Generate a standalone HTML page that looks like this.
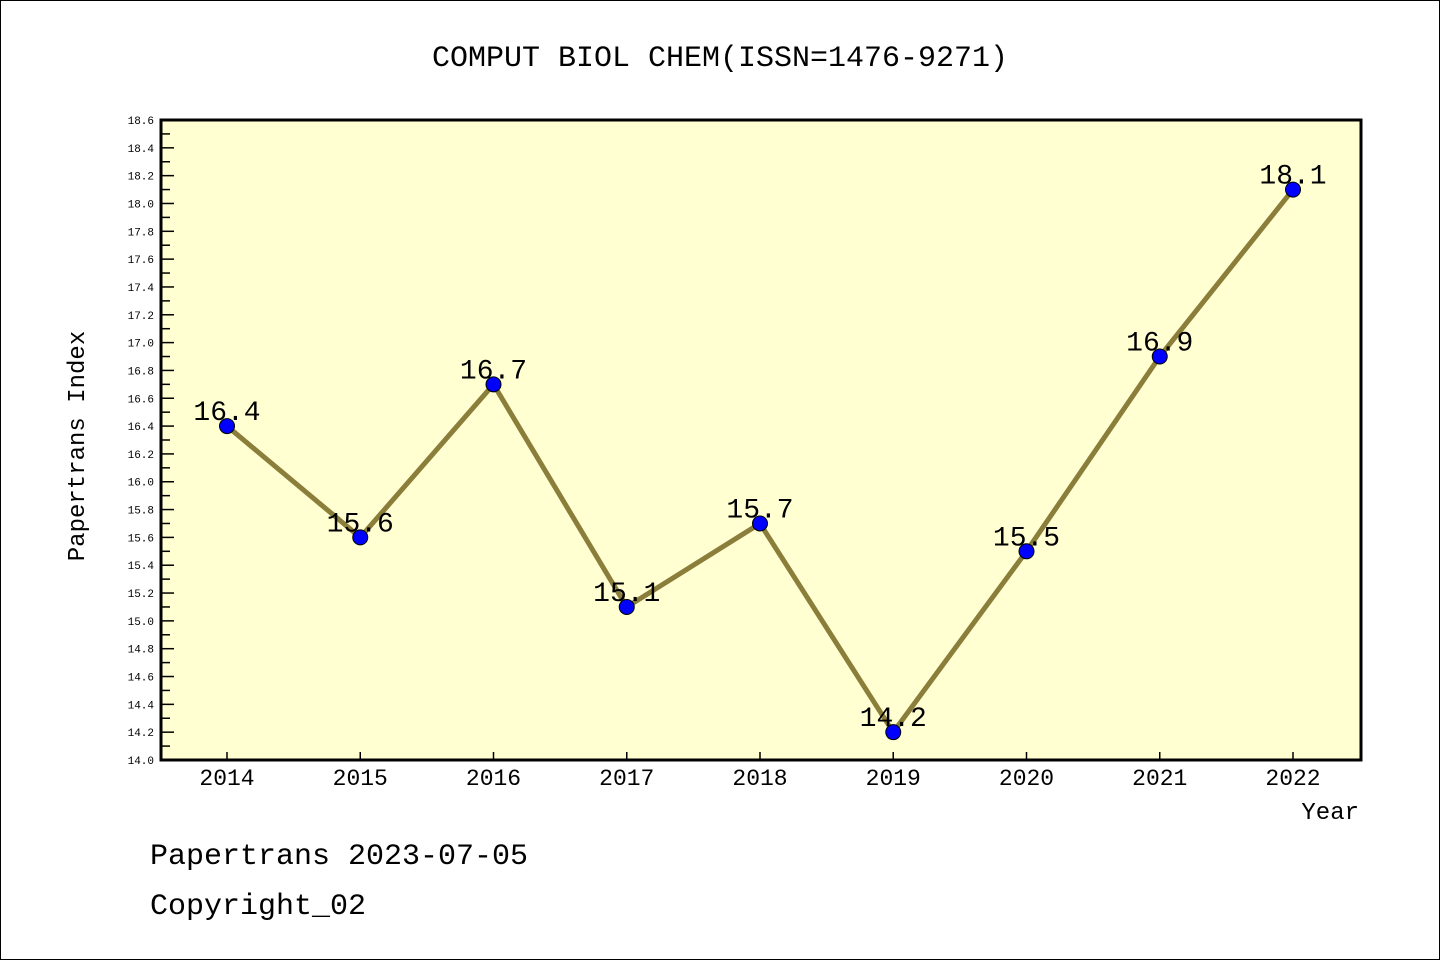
<!DOCTYPE html>
<html><head><meta charset="utf-8"><style>
body{margin:0;background:#fff}
svg{display:block}
text{font-family:"WenQuanYi Zen Hei","Liberation Mono",monospace}
</style></head><body>
<svg id="c" width="1440" height="960" xmlns="http://www.w3.org/2000/svg">
<rect x="0.5" y="0.5" width="1439" height="959" fill="#fff" stroke="#000"/>
<text x="720" y="66" text-anchor="middle" font-size="30">COMPUT BIOL CHEM(ISSN=1476-9271)</text>
<rect x="161" y="120" width="1200" height="640" fill="#ffffd2"/>
<g id="ticks"></g>
<g id="series"></g>
<rect x="161" y="120" width="1200" height="640" fill="none" stroke="#000" stroke-width="3"/>
<text transform="translate(84,446) rotate(-90)" text-anchor="middle" font-size="24">Papertrans Index</text>
<text x="1359" y="819" text-anchor="end" font-size="24">Year</text>
<text x="150" y="864" font-size="30">Papertrans 2023-07-05</text>
<text x="150" y="914" font-size="30">Copyright_02</text>
</svg>
<script>
const years=[2014,2015,2016,2017,2018,2019,2020,2021,2022];
const values=[16.4,15.6,16.7,15.1,15.7,14.2,15.5,16.9,18.1];
const valueLabels=["16.4","15.6","16.7","15.1","15.7","14.2","15.5","16.9","18.1"];
const yMin=14.0,yMax=18.6;
const NS="http://www.w3.org/2000/svg";
const L=161,T=120,W=1200,H=640;
function xs(i){return 227+i*(1293-227)/(years.length-1);}
function ys(v){return T+H-(v-yMin)/(yMax-yMin)*H;}
function mk(tag,attrs,parent){const e=document.createElementNS(NS,tag);for(const k in attrs)e.setAttribute(k,attrs[k]);parent.appendChild(e);return e;}
const tg=document.getElementById('ticks');
for(let k=0;k<=46;k++){
  const v=yMin+k*0.1, y=ys(v), major=k%2===0;
  const t=mk('line',{x1:L,x2:L+(major?13:9),y1:y,y2:y,stroke:'#000','stroke-width':1.5},tg);
  
  
  if(major){
    const tx=mk('text',{x:L-7,y:y+4,'text-anchor':'end','font-size':11},tg);
    tx.textContent=v.toFixed(1);
    
    
  }
}
years.forEach((yr,i)=>{
  const x=xs(i);
  const t=mk('line',{x1:x,x2:x,y1:T+H,y2:T+H-8,stroke:'#000','stroke-width':1.5},tg);
  
  
  const tx=mk('text',{x:x,y:785,'text-anchor':'middle','font-size':23},tg);
  tx.textContent=yr;
  
  
});
const sg=document.getElementById('series');
const pl=mk('polyline',{points:values.map((v,i)=>xs(i)+','+ys(v)).join(' '),fill:'none',stroke:'#8b7d3a','stroke-width':5},sg);


values.forEach((v,i)=>{
  const c=mk('circle',{cx:xs(i),cy:ys(v),r:7.5,fill:'#0000ff',stroke:'#000','stroke-width':1},sg);
  
  
  const t=mk('text',{x:xs(i),y:ys(v)-6,'text-anchor':'middle','font-size':28},sg);
  t.textContent=valueLabels[i];
  
  
});
</script>
</body></html>
